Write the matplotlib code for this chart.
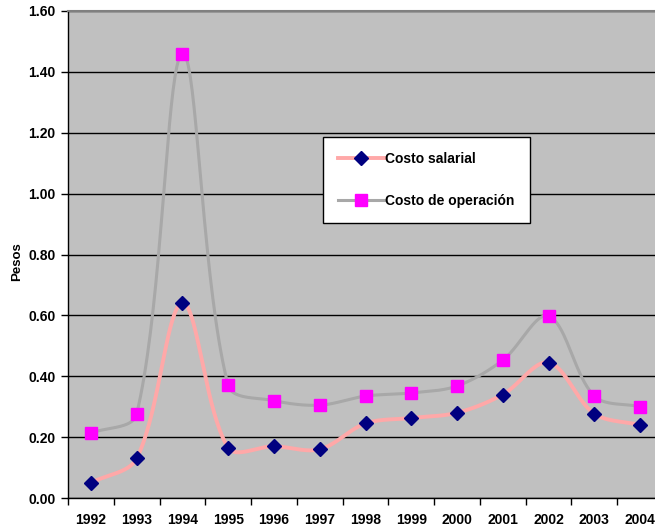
import numpy as np
import matplotlib.pyplot as plt

plt.rcParams["font.family"] = ["Liberation Sans", "DejaVu Sans"]
plt.rcParams["font.weight"] = "bold"

years = ["1992", "1993", "1994", "1995", "1996", "1997", "1998",
         "1999", "2000", "2001", "2002", "2003", "2004"]
costo_salarial = [0.05, 0.13, 0.64, 0.165, 0.17, 0.16, 0.245,
                  0.263, 0.28, 0.34, 0.445, 0.277, 0.24]
costo_operacion = [0.213, 0.276, 1.46, 0.37, 0.32, 0.305, 0.335,
                   0.345, 0.368, 0.453, 0.598, 0.335, 0.30]

# pixel scale of the plot area, used so the smoothing works in screen space
PX_X = 45.8
PX_Y = 304.4


def smooth(x, y, n=40):
    """Excel-like smoothed line: Bezier segments, tangents weighted by chord length."""
    p = np.column_stack([np.asarray(x, float) * PX_X, np.asarray(y, float) * PX_Y])
    m = len(p)
    out = []
    for i in range(m - 1):
        a, b = p[i], p[i + 1]
        prev = p[i - 1] if i > 0 else a
        nxt = p[i + 2] if i + 2 < m else b
        d0 = np.hypot(*(a - prev))
        d1 = np.hypot(*(b - a))
        d2 = np.hypot(*(nxt - b))
        c1 = a + (b - prev) * (d1 / (d0 + d1)) / 3 if d0 + d1 > 0 else a
        c2 = b - (nxt - a) * (d1 / (d1 + d2)) / 3 if d1 + d2 > 0 else b
        t = np.linspace(0, 1, n)[:, None]
        seg = (1 - t) ** 3 * a + 3 * (1 - t) ** 2 * t * c1 + 3 * (1 - t) * t ** 2 * c2 + t ** 3 * b
        out.append(seg)
    s = np.vstack(out)
    return s[:, 0] / PX_X, s[:, 1] / PX_Y


fig = plt.figure(figsize=(6.55, 5.29), dpi=100)
ax = fig.add_axes([68 / 655, 31 / 529, 595 / 655, 487 / 529])
ax.set_facecolor("#C0C0C0")

xi = np.arange(len(years))
sx, sy = smooth(xi, costo_operacion)
ax.plot(sx, sy, color="#A8A8A8", lw=2.2, zorder=2)
sx, sy = smooth(xi, costo_salarial)
ax.plot(sx, sy, color="#FFA8A8", lw=2.8, zorder=3)

ax.plot(xi, costo_salarial, ls="none", marker="D", ms=7.5, color="#000080",
        zorder=5)
ax.plot(xi, costo_operacion, ls="none", marker="s", ms=9, color="#FF00FF",
        zorder=4)

ax.set_ylim(0, 1.6)
ax.set_yticks(np.arange(0, 1.61, 0.2))
ax.set_yticklabels([f"{v:.2f}" for v in np.arange(0, 1.61, 0.2)])
ax.yaxis.grid(True, color="black", lw=1)
ax.set_axisbelow(True)

ax.set_xlim(-0.5, len(years) - 0.5)
ax.set_xticks(np.arange(-0.5, len(years), 1.0))
ax.set_xticklabels([])
ax.set_xticks(xi, minor=True)
ax.set_xticklabels(years, minor=True)
ax.tick_params(axis="x", which="major", length=5, width=1, direction="out")
ax.tick_params(axis="x", which="minor", length=0, pad=11, labelsize=10)
ax.tick_params(axis="y", length=5, width=1, direction="out", labelsize=10, pad=4)

ax.spines["top"].set_color("#808080")
ax.spines["top"].set_linewidth(1.5)
ax.spines["right"].set_visible(False)
ax.spines["left"].set_linewidth(1)
ax.spines["bottom"].set_linewidth(1)

fig.text(17 / 655, 1 - 262 / 529, "Pesos", rotation=90, ha="center",
         va="center", fontsize=9.5, fontweight="bold")

h1, = ax.plot([], [], color="#FFA8A8", lw=2.8, marker="D", ms=7.5,
              mfc="#000080", mec="#000080")
h2, = ax.plot([], [], color="#A8A8A8", lw=2.2, marker="s", ms=9,
              mfc="#FF00FF", mec="#FF00FF")
leg = ax.legend([h1, h2], ["Costo salarial", "Costo de operación"],
                loc="upper left",
                bbox_to_anchor=((323 - 68) / 595, 1 - (137 - 11) / 487),
                frameon=True, fancybox=False, edgecolor="black", framealpha=1,
                prop={"size": 10, "weight": "bold"}, handlelength=3.3,
                handletextpad=0.1, labelspacing=2.0, borderpad=1.1,
                borderaxespad=0)
leg.get_frame().set_linewidth(1)

fig.savefig("out.png", dpi=100)
